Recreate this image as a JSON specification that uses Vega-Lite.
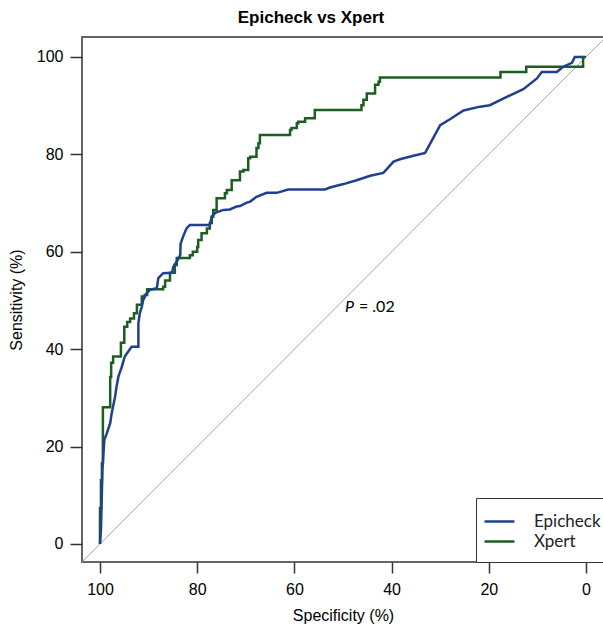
{
  "$schema": "https://vega.github.io/schema/vega-lite/v6.json",
  "width": 522,
  "height": 525,
  "autosize": "none",
  "padding": {"left": 82, "top": 37, "right": 0, "bottom": 66},
  "background": "white",
  "title": {"text": "Epicheck vs Xpert", "fontSize": 17, "fontWeight": "bold", "font": "Liberation Sans", "color": "#000", "offset": 10, "dx": -32},
  "config": {
    "view": {"stroke": "#333", "strokeWidth": 1.5},
    "axis": {"labelFont": "Liberation Sans", "titleFont": "Liberation Sans", "labelColor": "#000", "titleColor": "#000", "labelFontSize": 16, "titleFontSize": 16, "titleFontWeight": "normal", "tickColor": "#333", "tickWidth": 1.5, "domain": false, "grid": false}
  },
  "datasets": {
    "diag": [{"spec": 103.7, "sens": -3.7}, {"spec": -3.7, "sens": 103.7}],
    "roc": [
      {"series": "Xpert", "i": 0, "spec": 100, "sens": 0},
      {"series": "Xpert", "i": 1, "spec": 100, "sens": 7.4},
      {"series": "Xpert", "i": 2, "spec": 99.8, "sens": 7.4},
      {"series": "Xpert", "i": 3, "spec": 99.8, "sens": 13.1},
      {"series": "Xpert", "i": 4, "spec": 99.6, "sens": 13.1},
      {"series": "Xpert", "i": 5, "spec": 99.6, "sens": 16.6},
      {"series": "Xpert", "i": 6, "spec": 99.4, "sens": 16.6},
      {"series": "Xpert", "i": 7, "spec": 99.4, "sens": 28.1},
      {"series": "Xpert", "i": 8, "spec": 97.9, "sens": 28.1},
      {"series": "Xpert", "i": 9, "spec": 97.9, "sens": 34.3},
      {"series": "Xpert", "i": 10, "spec": 97.7, "sens": 34.3},
      {"series": "Xpert", "i": 11, "spec": 97.7, "sens": 37.2},
      {"series": "Xpert", "i": 12, "spec": 97.3, "sens": 37.2},
      {"series": "Xpert", "i": 13, "spec": 97.3, "sens": 38.5},
      {"series": "Xpert", "i": 14, "spec": 95.7, "sens": 38.5},
      {"series": "Xpert", "i": 15, "spec": 95.7, "sens": 41.3},
      {"series": "Xpert", "i": 16, "spec": 95.0, "sens": 41.3},
      {"series": "Xpert", "i": 17, "spec": 95.0, "sens": 44.6},
      {"series": "Xpert", "i": 18, "spec": 94.4, "sens": 44.6},
      {"series": "Xpert", "i": 19, "spec": 94.4, "sens": 45.6},
      {"series": "Xpert", "i": 20, "spec": 93.8, "sens": 45.6},
      {"series": "Xpert", "i": 21, "spec": 93.8, "sens": 46.3},
      {"series": "Xpert", "i": 22, "spec": 93.0, "sens": 46.3},
      {"series": "Xpert", "i": 23, "spec": 93.0, "sens": 47.4},
      {"series": "Xpert", "i": 24, "spec": 92.4, "sens": 47.4},
      {"series": "Xpert", "i": 25, "spec": 92.4, "sens": 49.1},
      {"series": "Xpert", "i": 26, "spec": 91.4, "sens": 49.1},
      {"series": "Xpert", "i": 27, "spec": 91.4, "sens": 50.8},
      {"series": "Xpert", "i": 28, "spec": 90.8, "sens": 50.8},
      {"series": "Xpert", "i": 29, "spec": 90.8, "sens": 51.1},
      {"series": "Xpert", "i": 30, "spec": 90.3, "sens": 51.1},
      {"series": "Xpert", "i": 31, "spec": 90.3, "sens": 52.3},
      {"series": "Xpert", "i": 32, "spec": 87.0, "sens": 52.3},
      {"series": "Xpert", "i": 33, "spec": 87.0, "sens": 52.8},
      {"series": "Xpert", "i": 34, "spec": 86.6, "sens": 52.8},
      {"series": "Xpert", "i": 35, "spec": 86.6, "sens": 54.1},
      {"series": "Xpert", "i": 36, "spec": 85.6, "sens": 54.1},
      {"series": "Xpert", "i": 37, "spec": 85.6, "sens": 55.7},
      {"series": "Xpert", "i": 38, "spec": 84.6, "sens": 55.7},
      {"series": "Xpert", "i": 39, "spec": 84.6, "sens": 57.3},
      {"series": "Xpert", "i": 40, "spec": 84.2, "sens": 57.3},
      {"series": "Xpert", "i": 41, "spec": 84.2, "sens": 58.7},
      {"series": "Xpert", "i": 42, "spec": 81.5, "sens": 58.7},
      {"series": "Xpert", "i": 43, "spec": 81.5, "sens": 59.3},
      {"series": "Xpert", "i": 44, "spec": 80.9, "sens": 59.3},
      {"series": "Xpert", "i": 45, "spec": 80.9, "sens": 60.0},
      {"series": "Xpert", "i": 46, "spec": 80.0, "sens": 60.0},
      {"series": "Xpert", "i": 47, "spec": 80.0, "sens": 61.0},
      {"series": "Xpert", "i": 48, "spec": 79.8, "sens": 61.0},
      {"series": "Xpert", "i": 49, "spec": 79.8, "sens": 62.4},
      {"series": "Xpert", "i": 50, "spec": 79.1, "sens": 62.4},
      {"series": "Xpert", "i": 51, "spec": 79.1, "sens": 63.8},
      {"series": "Xpert", "i": 52, "spec": 78.0, "sens": 63.8},
      {"series": "Xpert", "i": 53, "spec": 78.0, "sens": 64.8},
      {"series": "Xpert", "i": 54, "spec": 77.4, "sens": 64.8},
      {"series": "Xpert", "i": 55, "spec": 77.4, "sens": 65.9},
      {"series": "Xpert", "i": 56, "spec": 77.0, "sens": 65.9},
      {"series": "Xpert", "i": 57, "spec": 77.0, "sens": 67.2},
      {"series": "Xpert", "i": 58, "spec": 76.7, "sens": 67.2},
      {"series": "Xpert", "i": 59, "spec": 76.7, "sens": 68.6},
      {"series": "Xpert", "i": 60, "spec": 76.0, "sens": 68.6},
      {"series": "Xpert", "i": 61, "spec": 76.0, "sens": 71.0},
      {"series": "Xpert", "i": 62, "spec": 74.3, "sens": 71.0},
      {"series": "Xpert", "i": 63, "spec": 74.3, "sens": 72.0},
      {"series": "Xpert", "i": 64, "spec": 73.9, "sens": 72.0},
      {"series": "Xpert", "i": 65, "spec": 73.9, "sens": 72.7},
      {"series": "Xpert", "i": 66, "spec": 72.9, "sens": 72.7},
      {"series": "Xpert", "i": 67, "spec": 72.9, "sens": 74.7},
      {"series": "Xpert", "i": 68, "spec": 71.2, "sens": 74.7},
      {"series": "Xpert", "i": 69, "spec": 71.2, "sens": 76.5},
      {"series": "Xpert", "i": 70, "spec": 70.5, "sens": 76.5},
      {"series": "Xpert", "i": 71, "spec": 70.5, "sens": 76.8},
      {"series": "Xpert", "i": 72, "spec": 69.5, "sens": 76.8},
      {"series": "Xpert", "i": 73, "spec": 69.5, "sens": 79.2},
      {"series": "Xpert", "i": 74, "spec": 69.1, "sens": 79.2},
      {"series": "Xpert", "i": 75, "spec": 69.1, "sens": 79.5},
      {"series": "Xpert", "i": 76, "spec": 67.8, "sens": 79.5},
      {"series": "Xpert", "i": 77, "spec": 67.8, "sens": 81.3},
      {"series": "Xpert", "i": 78, "spec": 67.4, "sens": 81.3},
      {"series": "Xpert", "i": 79, "spec": 67.4, "sens": 82.3},
      {"series": "Xpert", "i": 80, "spec": 67.1, "sens": 82.3},
      {"series": "Xpert", "i": 81, "spec": 67.1, "sens": 84.0},
      {"series": "Xpert", "i": 82, "spec": 60.9, "sens": 84.0},
      {"series": "Xpert", "i": 83, "spec": 60.9, "sens": 85.0},
      {"series": "Xpert", "i": 84, "spec": 60.6, "sens": 85.0},
      {"series": "Xpert", "i": 85, "spec": 60.6, "sens": 85.4},
      {"series": "Xpert", "i": 86, "spec": 59.5, "sens": 85.4},
      {"series": "Xpert", "i": 87, "spec": 59.5, "sens": 86.4},
      {"series": "Xpert", "i": 88, "spec": 59.2, "sens": 86.4},
      {"series": "Xpert", "i": 89, "spec": 59.2, "sens": 86.7},
      {"series": "Xpert", "i": 90, "spec": 57.8, "sens": 86.7},
      {"series": "Xpert", "i": 91, "spec": 57.8, "sens": 87.4},
      {"series": "Xpert", "i": 92, "spec": 55.8, "sens": 87.4},
      {"series": "Xpert", "i": 93, "spec": 55.8, "sens": 89.1},
      {"series": "Xpert", "i": 94, "spec": 46.2, "sens": 89.1},
      {"series": "Xpert", "i": 95, "spec": 46.2, "sens": 90.1},
      {"series": "Xpert", "i": 96, "spec": 45.8, "sens": 90.1},
      {"series": "Xpert", "i": 97, "spec": 45.8, "sens": 91.2},
      {"series": "Xpert", "i": 98, "spec": 45.1, "sens": 91.2},
      {"series": "Xpert", "i": 99, "spec": 45.1, "sens": 92.5},
      {"series": "Xpert", "i": 100, "spec": 43.4, "sens": 92.5},
      {"series": "Xpert", "i": 101, "spec": 43.4, "sens": 94.3},
      {"series": "Xpert", "i": 102, "spec": 42.7, "sens": 94.3},
      {"series": "Xpert", "i": 103, "spec": 42.7, "sens": 94.9},
      {"series": "Xpert", "i": 104, "spec": 42.4, "sens": 94.9},
      {"series": "Xpert", "i": 105, "spec": 42.4, "sens": 95.8},
      {"series": "Xpert", "i": 106, "spec": 17.6, "sens": 95.8},
      {"series": "Xpert", "i": 107, "spec": 17.6, "sens": 96.9},
      {"series": "Xpert", "i": 108, "spec": 12.3, "sens": 96.9},
      {"series": "Xpert", "i": 109, "spec": 12.3, "sens": 98.0},
      {"series": "Xpert", "i": 110, "spec": 0.6, "sens": 98.0},
      {"series": "Xpert", "i": 111, "spec": 0.6, "sens": 100},
      {"series": "Xpert", "i": 112, "spec": 0, "sens": 100},
      {"series": "Epicheck", "i": 0, "spec": 100, "sens": 0},
      {"series": "Epicheck", "i": 1, "spec": 99.8, "sens": 2.9},
      {"series": "Epicheck", "i": 2, "spec": 99.65, "sens": 9.0},
      {"series": "Epicheck", "i": 3, "spec": 99.5, "sens": 15.2},
      {"series": "Epicheck", "i": 4, "spec": 99.1, "sens": 21.4},
      {"series": "Epicheck", "i": 5, "spec": 98.6, "sens": 22.7},
      {"series": "Epicheck", "i": 6, "spec": 97.9, "sens": 24.8},
      {"series": "Epicheck", "i": 7, "spec": 97.6, "sens": 26.8},
      {"series": "Epicheck", "i": 8, "spec": 96.9, "sens": 30.2},
      {"series": "Epicheck", "i": 9, "spec": 96.6, "sens": 32.3},
      {"series": "Epicheck", "i": 10, "spec": 96.2, "sens": 34.4},
      {"series": "Epicheck", "i": 11, "spec": 95.5, "sens": 36.4},
      {"series": "Epicheck", "i": 12, "spec": 94.9, "sens": 38.5},
      {"series": "Epicheck", "i": 13, "spec": 93.5, "sens": 40.5},
      {"series": "Epicheck", "i": 14, "spec": 92.1, "sens": 40.5},
      {"series": "Epicheck", "i": 15, "spec": 92.1, "sens": 45.3},
      {"series": "Epicheck", "i": 16, "spec": 91.8, "sens": 47.4},
      {"series": "Epicheck", "i": 17, "spec": 91.4, "sens": 48.7},
      {"series": "Epicheck", "i": 18, "spec": 91.1, "sens": 50.1},
      {"series": "Epicheck", "i": 19, "spec": 90.4, "sens": 51.5},
      {"series": "Epicheck", "i": 20, "spec": 89.7, "sens": 52.2},
      {"series": "Epicheck", "i": 21, "spec": 88.3, "sens": 52.5},
      {"series": "Epicheck", "i": 22, "spec": 88.0, "sens": 54.6},
      {"series": "Epicheck", "i": 23, "spec": 87.0, "sens": 55.6},
      {"series": "Epicheck", "i": 24, "spec": 85.2, "sens": 55.7},
      {"series": "Epicheck", "i": 25, "spec": 84.9, "sens": 56.9},
      {"series": "Epicheck", "i": 26, "spec": 84.2, "sens": 58.0},
      {"series": "Epicheck", "i": 27, "spec": 83.5, "sens": 59.3},
      {"series": "Epicheck", "i": 28, "spec": 83.4, "sens": 61.7},
      {"series": "Epicheck", "i": 29, "spec": 82.9, "sens": 63.1},
      {"series": "Epicheck", "i": 30, "spec": 82.2, "sens": 64.8},
      {"series": "Epicheck", "i": 31, "spec": 81.5, "sens": 65.5},
      {"series": "Epicheck", "i": 32, "spec": 77.4, "sens": 65.5},
      {"series": "Epicheck", "i": 33, "spec": 77.0, "sens": 67.2},
      {"series": "Epicheck", "i": 34, "spec": 76.3, "sens": 68.0},
      {"series": "Epicheck", "i": 35, "spec": 74.6, "sens": 68.6},
      {"series": "Epicheck", "i": 36, "spec": 73.3, "sens": 68.7},
      {"series": "Epicheck", "i": 37, "spec": 71.9, "sens": 69.3},
      {"series": "Epicheck", "i": 38, "spec": 71.2, "sens": 69.4},
      {"series": "Epicheck", "i": 39, "spec": 69.8, "sens": 70.1},
      {"series": "Epicheck", "i": 40, "spec": 69.1, "sens": 70.3},
      {"series": "Epicheck", "i": 41, "spec": 67.8, "sens": 71.3},
      {"series": "Epicheck", "i": 42, "spec": 65.7, "sens": 72.1},
      {"series": "Epicheck", "i": 43, "spec": 63.6, "sens": 72.1},
      {"series": "Epicheck", "i": 44, "spec": 61.3, "sens": 72.8},
      {"series": "Epicheck", "i": 45, "spec": 53.7, "sens": 72.8},
      {"series": "Epicheck", "i": 46, "spec": 52.7, "sens": 73.2},
      {"series": "Epicheck", "i": 47, "spec": 49.9, "sens": 73.9},
      {"series": "Epicheck", "i": 48, "spec": 47.2, "sens": 74.7},
      {"series": "Epicheck", "i": 49, "spec": 44.4, "sens": 75.6},
      {"series": "Epicheck", "i": 50, "spec": 41.7, "sens": 76.2},
      {"series": "Epicheck", "i": 51, "spec": 39.6, "sens": 78.5},
      {"series": "Epicheck", "i": 52, "spec": 38.3, "sens": 79.0},
      {"series": "Epicheck", "i": 53, "spec": 35.5, "sens": 79.7},
      {"series": "Epicheck", "i": 54, "spec": 33.1, "sens": 80.3},
      {"series": "Epicheck", "i": 55, "spec": 30.0, "sens": 86.0},
      {"series": "Epicheck", "i": 56, "spec": 28.0, "sens": 87.2},
      {"series": "Epicheck", "i": 57, "spec": 25.2, "sens": 89.0},
      {"series": "Epicheck", "i": 58, "spec": 21.8, "sens": 89.8},
      {"series": "Epicheck", "i": 59, "spec": 19.8, "sens": 90.1},
      {"series": "Epicheck", "i": 60, "spec": 16.3, "sens": 91.8},
      {"series": "Epicheck", "i": 61, "spec": 12.9, "sens": 93.4},
      {"series": "Epicheck", "i": 62, "spec": 10.1, "sens": 95.6},
      {"series": "Epicheck", "i": 63, "spec": 9.1, "sens": 96.9},
      {"series": "Epicheck", "i": 64, "spec": 6.0, "sens": 96.9},
      {"series": "Epicheck", "i": 65, "spec": 4.7, "sens": 98.0},
      {"series": "Epicheck", "i": 66, "spec": 2.9, "sens": 98.8},
      {"series": "Epicheck", "i": 67, "spec": 2.3, "sens": 100},
      {"series": "Epicheck", "i": 68, "spec": 0.6, "sens": 100}
    ],
    "note": [{"spec": 49.6, "sens": 48.7}]
  },
  "encoding": {
    "x": {"field": "spec", "type": "quantitative", "scale": {"domain": [-3.7, 103.7], "reverse": true, "nice": false, "zero": false},
      "axis": {"title": "Specificity (%)", "values": [0, 20, 40, 60, 80, 100], "tickSize": 11, "labelPadding": 8, "titlePadding": 10}},
    "y": {"field": "sens", "type": "quantitative", "scale": {"domain": [-3.7, 104.1], "nice": false, "zero": false},
      "axis": {"title": "Sensitivity (%)", "values": [0, 20, 40, 60, 80, 100], "tickSize": 12, "labelPadding": 7, "titlePadding": 12}}
  },
  "layer": [
    {
      "data": {"name": "diag"},
      "mark": {"type": "line", "color": "#a6a6a6", "strokeWidth": 1},
      "encoding": {}
    },
    {
      "data": {"name": "roc"},
      "mark": {"type": "line", "strokeWidth": 2.5},
      "encoding": {
        "order": {"field": "i", "type": "quantitative"},
        "color": {"field": "series", "type": "nominal",
          "scale": {"domain": ["Epicheck", "Xpert"], "range": ["#1f3f8f", "#1b5e20"]},
          "legend": {"title": null, "orient": "none", "legendX": 394, "legendY": 461, "padding": 12, "strokeColor": "#333", "fillColor": "white", "symbolType": "M-1.5,0H1.5", "symbolSize": 400, "symbolStrokeWidth": 2.5, "labelFont": "Lato", "labelFontSize": 17, "labelColor": "#222", "rowPadding": 0, "labelOffset": 23}
        }
      }
    },
    {
      "data": {"name": "note"},
      "mark": {"type": "text", "text": "P", "fontStyle": "italic", "font": "Lato", "fontSize": 16, "align": "left", "baseline": "middle", "color": "#000"},
      "encoding": {}
    },
    {
      "data": {"name": "note"},
      "mark": {"type": "text", "text": "= .02", "font": "Lato", "fontSize": 16, "align": "left", "baseline": "middle", "color": "#000", "dx": 14},
      "encoding": {}
    }
  ]
}
